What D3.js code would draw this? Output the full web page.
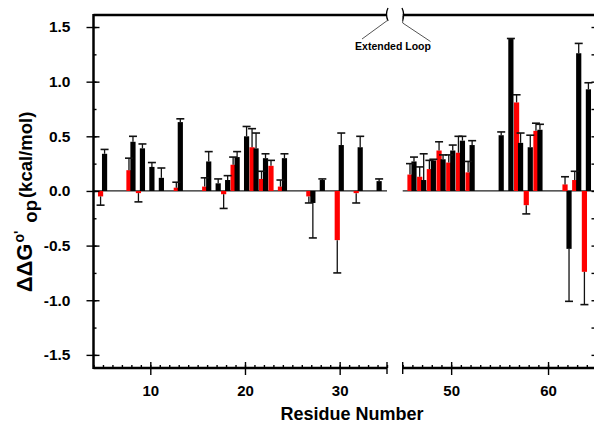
<!DOCTYPE html>
<html>
<head>
<meta charset="utf-8">
<script src="https://d3js.org/d3.v7.min.js"></script>
<style>
body { margin: 0; background: #fff; }
text { font-family: "Liberation Sans", Arial, sans-serif; font-weight: bold; fill: #000; }
</style>
</head>
<body>
<div id="chart"></div>
<script>
// residues with data, and the two series (null = no bar)
var residues = [5, 8, 9, 10, 11, 13, 16, 17, 18, 19, 20, 21, 22, 23, 24, 27, 28, 30, 32, 34,
                46, 47, 48, 49, 50, 51, 52, 55, 56, 57, 58, 59, 62, 63, 64];
var blackVals = [0.34, 0.45, 0.39, 0.22, 0.12, 0.63, 0.27, 0.07, 0.10, 0.31, 0.50, 0.39, 0.30, null, 0.30, -0.11, 0.10, 0.42, 0.40, 0.09,
                 0.27, 0.10, 0.28, 0.29, 0.37, 0.46, 0.42, 0.51, 1.39, 0.44, 0.40, 0.56, -0.53, 1.26, 0.93];
var blackErr = [0.04, 0.05, 0.04, 0.04, 0.09, 0.03, 0.09, 0.04, 0.04, 0.05, 0.09, 0.14, 0.04, null, 0.04, 0.32, 0.01, 0.11, 0.10, 0.02,
                0.04, 0.24, 0.01, 0.04, 0.05, 0.04, 0.04, 0.03, 0.005, 0.09, 0.11, 0.05, 0.48, 0.09, 0.06];
var redVals = [-0.05, 0.19, -0.02, null, null, 0.03, 0.04, null, -0.03, 0.24, null, 0.40, 0.11, 0.23, 0.04, -0.05, null, -0.45, -0.02, null,
               0.15, 0.13, 0.20, 0.37, 0.26, 0.35, 0.17, null, null, 0.81, -0.13, 0.55, 0.06, 0.10, -0.74];
var redErr = [0.08, 0.11, 0.08, null, null, 0.05, 0.08, null, 0.13, 0.07, null, 0.17, 0.07, 0.05, 0.06, 0.06, null, 0.30, 0.09, null,
              0.10, 0.09, 0.08, 0.08, 0.07, 0.15, 0.10, null, null, 0.07, 0.08, 0.07, 0.07, 0.08, 0.30];

var xTicksLeft = [10, 20, 30];
var xTicksRight = [50, 60];
var yTicks = [-1.5, -1.0, -0.5, 0.0, 0.5, 1.0, 1.5];
var yMinor = d3.range(-1.5, 1.51, 0.25);

var svg = d3.select("#chart").append("svg").attr("width", 594).attr("height", 425);

var y = d3.scaleLinear().domain([-1.62, 1.61]).range([368, 15]);
var xLeft = d3.scaleLinear().domain([4, 35]).range([93.5, 387]);
var xRight = d3.scaleLinear().domain([45, 65]).range([402.7, 596.5]);
function xOf(r) { return r <= 35 ? xLeft(r) : xRight(r); }

var rows = residues.map(function (r, i) {
  return { res: r, black: blackVals[i], bErr: blackErr[i], red: redVals[i], rErr: redErr[i] };
});

// zero line
[[xLeft, 4, 35], [xRight, 45, 65]].forEach(function (p) {
  svg.append("line").attr("x1", p[0](p[1])).attr("x2", p[0](p[2]))
    .attr("y1", y(0)).attr("y2", y(0)).attr("stroke", "#222").attr("stroke-width", 1.2);
});

// bars
var series = [
  { key: "red", err: "rErr", off: -5, color: "#ff0000" },
  { key: "black", err: "bErr", off: -1, color: "#000" }
];
var barW = 5.2;
series.forEach(function (s) {
  var d = rows.filter(function (r) { return r[s.key] !== null; });
  svg.append("g").selectAll("rect").data(d).enter().append("rect")
    .attr("x", function (r) { return xOf(r.res) + s.off; })
    .attr("width", barW)
    .attr("y", function (r) { return y(Math.max(0, r[s.key])); })
    .attr("height", function (r) { return Math.abs(y(r[s.key]) - y(0)); })
    .attr("fill", s.color);
});

// error bars (one sided, away from zero)
series.forEach(function (s) {
  var d = rows.filter(function (r) { return r[s.key] !== null; });
  var g = svg.append("g").attr("stroke", "#111").attr("stroke-width", 1.3);
  d.forEach(function (r) {
    var cx = xOf(r.res) + s.off + barW / 2;
    var v = r[s.key], e = r[s.err];
    var end = v >= 0 ? v + e : v - e;
    g.append("line").attr("x1", cx).attr("x2", cx).attr("y1", y(v)).attr("y2", y(end));
    g.append("line").attr("x1", cx - 4).attr("x2", cx + 4).attr("y1", y(end)).attr("y2", y(end)).attr("stroke-width", 1.6);
  });
});

function clean(g) { g.select(".domain").remove(); g.selectAll(".tick line").attr("stroke-width", 1.4); }

// bottom axes: outward majors with labels, inward minors
[[xLeft, xTicksLeft, d3.range(4, 36)], [xRight, xTicksRight, d3.range(45, 66)]].forEach(function (p) {
  svg.append("g").attr("transform", "translate(0,368)")
    .call(d3.axisBottom(p[0]).tickValues(p[1]).tickSize(7).tickPadding(10).tickFormat(d3.format("d")))
    .call(clean).selectAll("text").style("font-size", "15px");
  svg.append("g").attr("transform", "translate(0,368)")
    .call(d3.axisTop(p[0]).tickValues(p[2]).tickSize(3).tickFormat("")).call(clean);
  svg.append("g").attr("transform", "translate(0,368)")
    .call(d3.axisTop(p[0]).tickValues(p[1]).tickSize(6).tickFormat("")).call(clean);
  svg.append("line").attr("x1", p[0].range()[0]).attr("x2", p[0].range()[1])
    .attr("y1", 368).attr("y2", 368).attr("stroke", "#000").attr("stroke-width", 2.5);
  svg.append("line").attr("x1", p[0].range()[0]).attr("x2", p[0].range()[1])
    .attr("y1", 15).attr("y2", 15).attr("stroke", "#000").attr("stroke-width", 2.5);
});

// break ticks on the bottom axis
[xLeft(35), xRight(45)].forEach(function (bx) {
  svg.append("line").attr("x1", bx).attr("x2", bx).attr("y1", 362).attr("y2", 374)
    .attr("stroke", "#000").attr("stroke-width", 1.4);
});

// left axis
svg.append("g").attr("transform", "translate(93.5,0)")
  .call(d3.axisLeft(y).tickValues(yTicks).tickSize(7).tickPadding(16)
    .tickFormat(function (d) { return d.toFixed(1); }))
  .call(clean).selectAll("text").style("font-size", "15.5px");
svg.append("g").attr("transform", "translate(93.5,0)")
  .call(d3.axisRight(y).tickValues(yMinor).tickSize(3).tickFormat("")).call(clean);
svg.append("g").attr("transform", "translate(93.5,0)")
  .call(d3.axisRight(y).tickValues(yTicks).tickSize(6).tickFormat("")).call(clean);
svg.append("line").attr("x1", 93.5).attr("x2", 93.5).attr("y1", 14).attr("y2", 369)
  .attr("stroke", "#000").attr("stroke-width", 2.5);

// right axis, ticks pointing in
svg.append("g").attr("transform", "translate(596.5,0)")
  .call(d3.axisLeft(y).tickValues(yMinor).tickSize(5).tickFormat("")).call(clean);
svg.append("line").attr("x1", 596.5).attr("x2", 596.5).attr("y1", 14).attr("y2", 369)
  .attr("stroke", "#000").attr("stroke-width", 2.5);

// top break marks and extended loop callout
var br = svg.append("g").attr("fill", "none").attr("stroke", "#000");
br.append("path").attr("d", "M388,8 Q385,14 388,21").attr("stroke-width", 1.3);
br.append("path").attr("d", "M402,8 Q405,14 402.5,21").attr("stroke-width", 1.3);
br.append("path").attr("d", "M388,20 L362,39").attr("stroke", "#555").attr("stroke-width", 1);
br.append("path").attr("d", "M402.7,16 L402.7,23 L430.5,41.5").attr("stroke", "#555").attr("stroke-width", 1);
svg.append("text").attr("x", 393).attr("y", 49.5).attr("text-anchor", "middle")
  .style("font-size", "10.5px").text("Extended Loop");

// axis titles
svg.append("text").attr("x", 352).attr("y", 420).attr("text-anchor", "middle")
  .style("font-size", "18px").text("Residue Number");

var yt = svg.append("text").attr("transform", "translate(32,202) rotate(-90)")
  .attr("text-anchor", "middle").style("font-size", "18.5px");
yt.append("tspan").style("font-size", "22px").text("\u0394\u0394G");
yt.append("tspan").attr("dy", -8).attr("dx", 1).style("font-size", "14px").text("o'");
yt.append("tspan").attr("dy", 13).attr("dx", 8).text("op");
yt.append("tspan").attr("dy", -5).attr("dx", 2).text("(kcal/mol)");
</script>
</body>
</html>
